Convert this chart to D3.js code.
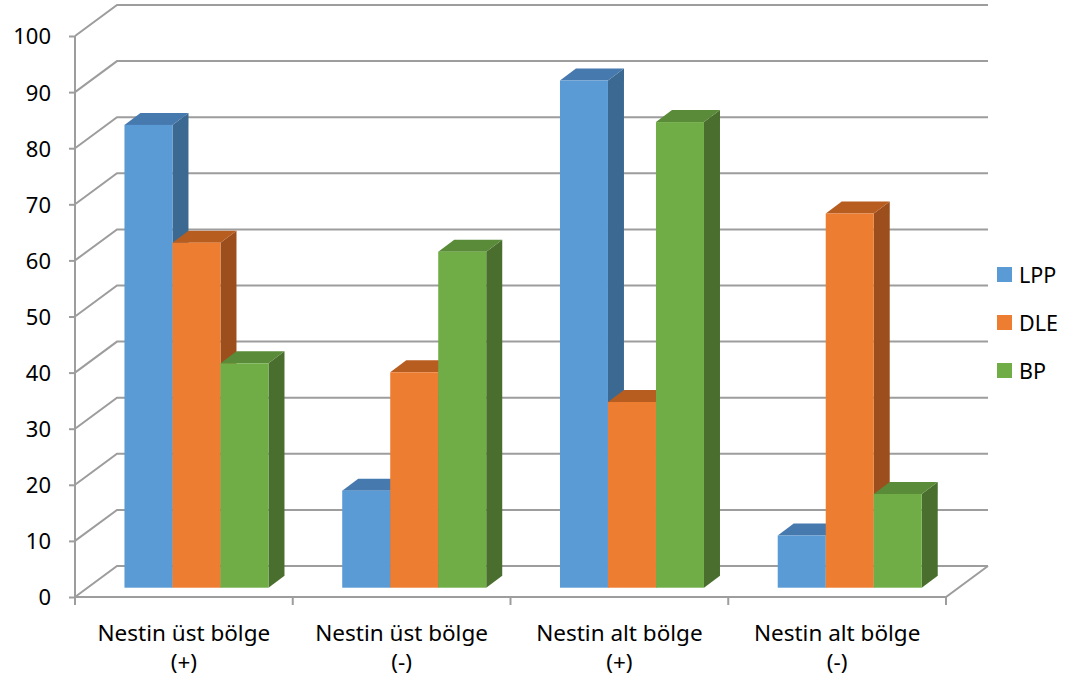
<!DOCTYPE html>
<html>
<head>
<meta charset="utf-8">
<script src="https://cdn.jsdelivr.net/npm/d3@7/dist/d3.min.js"></script>
<style>
  body { margin: 0; background: #fff; }
  svg text { font-family: "Noto Sans", "DejaVu Sans", sans-serif; fill: #000; }
</style>
</head>
<body>
<div id="chart"></div>
<script>
// ===== data =====
const categories = [
  ['Nestin üst bölge', '(+)'],
  ['Nestin üst bölge', '(-)'],
  ['Nestin alt bölge', '(+)'],
  ['Nestin alt bölge', '(-)']
];
const seriesNames = ['LPP', 'DLE', 'BP'];
const lppValues = [82.5, 17.3, 90.4, 9.3];
const dleValues = [61.5, 38.4, 33.1, 66.7];
const bpValues = [40, 59.9, 83, 16.7];
const yTicks = [0, 10, 20, 30, 40, 50, 60, 70, 80, 90, 100];

// colors: front, side, top
const colors = {
  LPP: ['#5B9BD5', '#3C6991', '#4679AE'],
  DLE: ['#ED7D31', '#9C4F1C', '#B85D20'],
  BP:  ['#70AD47', '#4A6E2D', '#5A8B39']
};

//===================== plot size =========================
const W = 1071, H = 686;
const x0 = 75, x1 = 946;          // front floor line
const wallDx = 42, wallDy = -31;  // depth of the back wall
const barOff = 0.3;               // bars sit 30% into the depth
const barDx = 16, barDy = -12;    // depth of a bar

const svg = d3.select('#chart').append('svg')
  .attr('width', W).attr('height', H);

const y = d3.scaleLinear().domain([0, 100]).range([597, 36]);
const xGroup = d3.scaleBand().domain(d3.range(categories.length)).range([x0, x1]);
const xSeries = d3.scaleBand().domain(seriesNames)
  .range([0, xGroup.bandwidth()]).paddingInner(0).paddingOuter(0.768);

const grid = '#9d9d9d';

//========= gridlines (front diagonal + back wall) =========
const gl = svg.append('g');
yTicks.forEach(t => {
  gl.append('path')
    .attr('d', `M${x0},${y(t)}L${x0 + wallDx},${y(t) + wallDy}L${x1 + wallDx},${y(t) + wallDy}`)
    .attr('fill', 'none').attr('stroke', grid).attr('stroke-width', 2);
});
// floor front + right edge
gl.append('path')
  .attr('d', `M${x0},${y(0)}L${x1},${y(0)}L${x1 + wallDx},${y(0) + wallDy}`)
  .attr('fill', 'none').attr('stroke', grid).attr('stroke-width', 2);
// front value axis
gl.append('line').attr('x1', x0).attr('x2', x0).attr('y1', y(100)).attr('y2', y(0))
  .attr('stroke', grid).attr('stroke-width', 2);

//========= y axis ticks & labels =========
const yAxis = svg.append('g')
  .attr('transform', `translate(${x0},0)`)
  .call(d3.axisLeft(y).tickValues(yTicks).tickSize(6).tickPadding(18));
yAxis.select('.domain').remove();
yAxis.selectAll('.tick line').attr('stroke', grid).attr('stroke-width', 2);
yAxis.selectAll('.tick text').style('font-size', '22px')
  .style('font-family', '"Noto Sans", sans-serif').attr('fill', '#000').attr('dy', '0.36em');

//========= category ticks & labels =========
const catTicks = d3.range(categories.length + 1).map(i =>
  i < categories.length ? xGroup(i) : x1);
svg.append('g').selectAll('line').data(catTicks).enter().append('line')
  .attr('x1', d => d).attr('x2', d => d)
  .attr('y1', y(0)).attr('y2', y(0) + 8)
  .attr('stroke', grid).attr('stroke-width', 2);

const cl = svg.append('g').selectAll('text').data(categories).enter().append('text')
  .attr('text-anchor', 'middle')
  .style('font-size', '22.5px');
cl.append('tspan')
  .attr('x', (d, i) => xGroup(i) + xGroup.bandwidth() / 2)
  .attr('y', 641)
  .text(d => d[0]);
cl.append('tspan')
  .attr('x', (d, i) => xGroup(i) + xGroup.bandwidth() / 2)
  .attr('y', 670)
  .text(d => d[1]);

//========= bars =========
const seriesValues = { LPP: lppValues, DLE: dleValues, BP: bpValues };
const offX = barOff * wallDx, offY = barOff * wallDy;
const bars = [];
categories.forEach((c, i) => {
  seriesNames.forEach(s => {
    bars.push({ cat: i, s: s, v: seriesValues[s][i] });
  });
});

const bg = svg.append('g');
bars.forEach(b => {
  const left = xGroup(b.cat) + xSeries(b.s) + offX;
  const right = left + xSeries.bandwidth();
  const top = y(b.v) + offY;
  const bottom = y(0) + offY;
  const c = colors[b.s];
  const g = bg.append('g');
  // side face
  g.append('path')
    .attr('d', `M${right},${bottom}L${right + barDx},${bottom + barDy}L${right + barDx},${top + barDy}L${right},${top}Z`)
    .attr('fill', c[1]);
  // top face
  g.append('path')
    .attr('d', `M${left},${top}L${left + barDx},${top + barDy}L${right + barDx},${top + barDy}L${right},${top}Z`)
    .attr('fill', c[2]);
  // front face
  g.append('rect')
    .attr('x', left).attr('y', top)
    .attr('width', right - left).attr('height', bottom - top)
    .attr('fill', c[0]);
});

//========= legend =========
const lg = svg.append('g').selectAll('g').data(seriesNames).enter().append('g')
  .attr('transform', (d, i) => `translate(997,${267 + i * 48})`);
lg.append('rect').attr('width', 15).attr('height', 15).attr('fill', d => colors[d][0]);
lg.append('text').attr('x', 22).attr('y', 8).attr('dy', '0.36em')
  .style('font-size', '21.5px').text(d => d);
</script>
</body>
</html>
